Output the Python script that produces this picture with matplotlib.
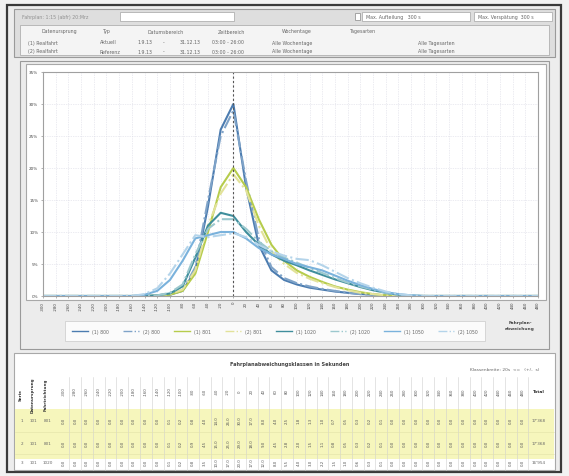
import matplotlib.pyplot as plt
from matplotlib.patches import Rectangle
from matplotlib.lines import Line2D
import numpy as np

# Fahrplanabweichungsklassen (Sekunden)
klassen = [-300, -280, -260, -240, -220, -200, -180, -160, -140, -120,
           -100, -80, -60, -40, -20, 0, 20, 40, 60, 80,
           100, 120, 140, 160, 180, 200, 220, 240, 260, 280,
           300, 320, 340, 360, 380, 400, 420, 440, 460, 480]

# Anteile in % je Klasse
s1 = [0, 0, 0, 0, 0, 0, 0, 0, 0, 0.05, 0.2, 0.8, 4, 14, 26, 30, 17, 8, 4, 2.5,
      1.8, 1.3, 1.0, 0.7, 0.5, 0.3, 0.2, 0.1, 0, 0, 0, 0, 0, 0, 0, 0, 0, 0, 0, 0]
s2 = [0, 0, 0, 0, 0, 0, 0, 0, 0, 0.05, 0.2, 0.9, 4.5, 15, 25, 29, 18, 9, 4.5, 2.8,
      2.0, 1.5, 1.1, 0.8, 0.5, 0.3, 0.2, 0.1, 0, 0, 0, 0, 0, 0, 0, 0, 0, 0, 0, 0]
s3 = [0, 0, 0, 0, 0, 0, 0, 0, 0, 0.05, 0.2, 0.8, 3.5, 10, 17, 20, 17, 12, 8, 5.5,
      4, 3, 2.2, 1.5, 1, 0.6, 0.3, 0.1, 0, 0, 0, 0, 0, 0, 0, 0, 0, 0, 0, 0]
s4 = [0, 0, 0, 0, 0, 0, 0, 0, 0, 0.1, 0.3, 1.0, 4, 11, 16, 19, 16.5, 11, 7, 5,
      3.6, 2.7, 2.0, 1.4, 0.9, 0.5, 0.3, 0.1, 0, 0, 0, 0, 0, 0, 0, 0, 0, 0, 0, 0]
s5 = [0, 0, 0, 0, 0, 0, 0, 0, 0, 0.1, 0.4, 1.5, 6, 11, 13, 12.5, 10, 8, 6.5, 5.5,
      4.8, 4, 3.3, 2.6, 2, 1.4, 0.9, 0.5, 0.2, 0.05, 0, 0, 0, 0, 0, 0, 0, 0, 0, 0]
s6 = [0, 0, 0, 0, 0, 0, 0, 0, 0, 0.1, 0.5, 1.8, 6.5, 10.5, 12, 12, 10.5, 8.5, 7, 6,
      5.2, 4.4, 3.6, 2.8, 2.1, 1.5, 1.0, 0.5, 0.2, 0.05, 0, 0, 0, 0, 0, 0, 0, 0, 0, 0]
s7 = [0, 0, 0, 0, 0, 0, 0, 0, 0.2, 0.8, 2.5, 5.5, 9, 9.5, 10, 10, 9, 7.5, 6.5, 5.8,
      5, 4.5, 4, 3.2, 2.4, 1.7, 1.1, 0.6, 0.3, 0.1, 0, 0, 0, 0, 0, 0, 0, 0, 0, 0]
s8 = [0, 0, 0, 0, 0, 0, 0, 0, 0.3, 1.2, 3.5, 6.5, 9.5, 9.2, 9.5, 9.8, 9.2, 8, 7, 6.3,
      5.8, 5.6, 4.8, 3.8, 2.8, 2.0, 1.3, 0.7, 0.3, 0.1, 0, 0, 0, 0, 0, 0, 0, 0, 0, 0]

serien = [s1, s2, s3, s4, s5, s6, s7, s8]
namen = ['(1) 800', '(2) 800', '(1) 801', '(2) 801', '(1) 1020', '(2) 1020', '(1) 1050', '(2) 1050']
farben = ['#4c7cb0', '#7fa3c8', '#b6cc4c', '#e2e29a', '#3f8e9c', '#9cc8ce', '#7ab2dc', '#b4d4ea']
stile = ['-', '-.', '-', '-.', '-', '-.', '-', '-.']

totals = ['17\'368', '17\'368', '16\'954']

W, H = 569, 477
fig = plt.figure(figsize=(W / 100, H / 100), dpi=100)
fig.patch.set_facecolor('#f2f2f2')

# hintergrund in pixel-koordinaten
bg = fig.add_axes([0, 0, 1, 1])
bg.set_xlim(0, W)
bg.set_ylim(H, 0)
bg.axis('off')

def box(x0, y0, x1, y1, fc, ec='#9a9a9a', lw=0.8):
    bg.add_patch(Rectangle((x0, y0), x1 - x0, y1 - y0, facecolor=fc, edgecolor=ec, lw=lw))

def txt(x, y, s, size=3.4, **kw):
    bg.text(x, y, s, fontsize=size, va='center', color=kw.pop('color', '#666666'), **kw)

# aussenrahmen
box(7, 6, 561, 473, '#ededed', ec='#3a3a3a', lw=1.6)

# kopfbereich
box(14, 10, 555, 58, '#dedede')
txt(22, 17.5, 'Fahrplan: 1:15 (abfr) 20:Mrz', color='#909090')
box(120, 13, 234, 22, 'white', ec='#b0b0b0', lw=0.6)
box(355, 14, 360, 21, 'white', ec='#888888', lw=0.5)
box(362, 13, 470, 22, 'white', ec='#b0b0b0', lw=0.6)
txt(366, 17.5, 'Max. Aufteilung   300 s')
box(474, 13, 552, 22, 'white', ec='#b0b0b0', lw=0.6)
txt(478, 17.5, 'Max. Verspätung  300 s')
box(20, 26, 549, 56, '#f4f4f4', ec='#b0b0b0', lw=0.6)
for x, s in [(42, 'Datenursprung'), (103, 'Typ'), (148, 'Datumsbereich'), (218, 'Zeitbereich'),
             (282, 'Wochentage'), (350, 'Tagesarten')]:
    txt(x, 32, s)
for y, n, t in [(43, '(1) Realfahrt', 'Aktuell'), (52, '(2) Realfahrt', 'Referenz')]:
    txt(28, y, n)
    txt(100, y, t)
    txt(137, y, '1.9.13')
    txt(163, y, '-')
    txt(180, y, '31.12.13')
    txt(212, y, '03:00 - 26:00')
    txt(272, y, 'Alle Wochentage')
    txt(418, y, 'Alle Tagesarten')

# diagrammbereich
box(20, 62, 549, 350, '#ececec')
box(26, 65, 546, 301, 'white', ec='#a8a8a8', lw=0.8)

ax = fig.add_axes([43 / W, 1 - 297 / H, (538 - 43) / W, (297 - 73) / H])
x = np.arange(len(klassen))
for s, n, c, ls in zip(serien, namen, farben, stile):
    ax.plot(x, s, color=c, linestyle=ls, lw=1.5, label=n, solid_joinstyle='round')
ax.axvline(klassen.index(0), color='#555555', linestyle=(0, (2, 2)), lw=0.8)
ax.set_xlim(0, len(klassen) - 1)
ax.set_ylim(0, 35)
ax.set_xticks(x)
ax.set_xticklabels([str(k) for k in klassen], rotation=90, fontsize=2.8)
yt = np.arange(0, 36, 5)
ax.set_yticks(yt)
ax.set_yticklabels([f'{v}%' for v in yt], fontsize=3)
ax.tick_params(length=1.5, width=0.4, pad=2, colors='#777777')
for lab in ax.get_xticklabels() + ax.get_yticklabels():
    lab.set_color('#444444')
ax.grid(True, color='#d8d8e4', linestyle=(0, (1, 1.5)), lw=0.5)
for sp in ax.spines.values():
    sp.set_color('#a0a0a0')
    sp.set_linewidth(0.8)

# legende
handles = [Line2D([0], [0], color=c, linestyle=ls, lw=1.0) for c, ls in zip(farben, stile)]
leg = fig.legend(handles, namen, ncol=8, loc='lower left', mode='expand',
                 bbox_to_anchor=(65 / W, 1 - 342 / H, 420 / W, 24 / H),
                 fontsize=3.3, handlelength=3.5, frameon=True, fancybox=False,
                 borderaxespad=0, borderpad=1.6, columnspacing=1.0)
leg.get_frame().set_edgecolor('#c8c8c8')
leg.get_frame().set_linewidth(0.6)
for t in leg.get_texts():
    t.set_color('#666666')
txt(520, 323, 'Fahrplan-', size=3.2, ha='center', weight='bold', color='#444444')
txt(520, 329, 'abweichung', size=3.2, ha='center', weight='bold', color='#444444')

# tabelle
box(14, 354, 555, 471, 'white', ec='#a8a8a8')
bg.add_patch(Rectangle((15, 410), 539, 50, facecolor='#f6f6bc', edgecolor='none'))
txt(290, 365, 'Fahrplanabweichungsklassen in Sekunden', size=3.6, ha='center', weight='bold',
    color='#444444')
txt(470, 370, 'Klassenbreite: 20s  <=   (+/-  s)', size=3.2, color='#666666')
for xx, s in [(21, 'Serie'), (33, 'Datenursprung'), (46, 'Fahrtrichtung')]:
    bg.text(xx, 395, s, fontsize=3.0, rotation=90, ha='center', va='center',
            weight='bold', color='#333333')
txt(539, 392, 'Total', size=3.2, ha='center', weight='bold', color='#333333')

x0, dx = 63.5, 11.77
zeilen = [(421, s1, '1', '101', '801'), (444, s2, '2', '101', '801'), (463, s3, '3', '101', '1020')]
for i, k in enumerate(klassen):
    cx = x0 + i * dx
    bg.plot([cx + dx / 2, cx + dx / 2], [378, 471], color='#cfcfcf', lw=0.4)
    bg.text(cx, 392, str(k), fontsize=2.8, rotation=90, ha='center', va='center', color='#555555')
    for y, s, *_ in zeilen:
        bg.text(cx, y, f'{s[i]:.1f}', fontsize=2.8, rotation=90, ha='center', va='center',
                color='#555555')
for (y, s, a, b, c), t in zip(zeilen, totals):
    txt(22, y, a, size=3.0, ha='center')
    txt(33, y, b, size=3.0, ha='center')
    txt(48, y, c, size=3.0, ha='center')
    txt(539, y, t, size=3.0, ha='center')
bg.plot([15, 554], [432.5, 432.5], color='#e2e2a8', lw=0.4)
bg.plot([15, 554], [455, 455], color='#e2e2a8', lw=0.4)

fig.savefig('out.png', dpi=100, facecolor=fig.get_facecolor())
